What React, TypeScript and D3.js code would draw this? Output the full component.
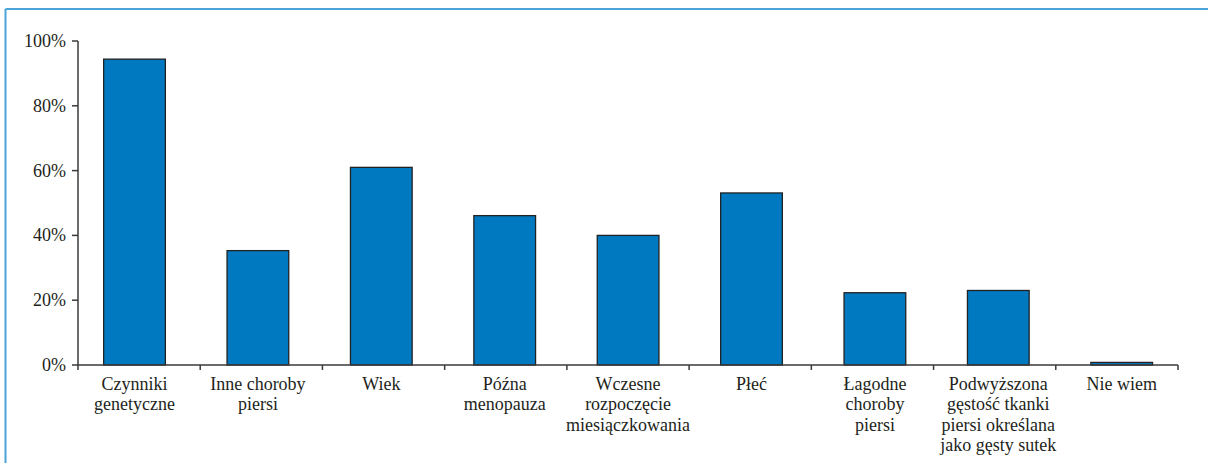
import React from "react";
import * as d3 from "d3";

// Risk factors named by respondents (label lines split with \n)
const categories: string[] = [
  "Czynniki\ngenetyczne",
  "Inne choroby\npiersi",
  "Wiek",
  "Późna\nmenopauza",
  "Wczesne\nrozpoczęcie\nmiesiączkowania",
  "Płeć",
  "Łagodne\nchoroby\npiersi",
  "Podwyższona\ngęstość tkanki\npiersi określana\njako gęsty sutek",
  "Nie wiem",
];

// Share of answers, in percent
const values: number[] = [94.4, 35.3, 61.0, 46.1, 40.0, 53.1, 22.3, 23.0, 0.8];

const yTicks: number[] = [0, 20, 40, 60, 80, 100];

const W = 1208;
const H = 463;
const AXIS_LEFT = 78;
const AXIS_RIGHT = 1178;
const Y_TOP = 41;
const Y_BOTTOM = 365;

const TEXT = "#231f20";
const AXIS = "#3a3a3a";
const BAR = "#0079c1";
const FRAME = "#4ba3d7";
const FONT =
  "'Liberation Serif', 'DejaVu Serif', 'Noto Serif', Tinos, 'Times New Roman', Times, 'Nimbus Roman', FreeSerif, serif";

export default function App() {
  const y = d3.scaleLinear().domain([0, 100]).range([Y_BOTTOM, Y_TOP]);

  // Axis scale: category boundaries for the tick marks
  const xAxis = d3
    .scaleBand<string>()
    .domain(categories)
    .range([AXIS_LEFT, AXIS_RIGHT])
    .padding(0);

  // Bar placement scale
  const xBar = d3
    .scaleBand<string>()
    .domain(categories)
    .range([72.8, 1183.4])
    .paddingInner(0.5)
    .paddingOuter(0.25);

  const tickXs = categories.map((c) => (xAxis(c) ?? 0) + xAxis.bandwidth());
  const textStyle = { fontFamily: FONT, fontSize: "18px" };

  return (
    <svg
      width={W}
      height={H}
      style={{ position: "absolute", left: 0, top: 0, background: "#fff" }}
    >
      {/* frame */}
      <line x1={5.5} y1={9} x2={W} y2={9} stroke={FRAME} strokeWidth={2} />
      <line x1={5.5} y1={9} x2={5.5} y2={H} stroke={FRAME} strokeWidth={2} />

      {/* bars */}
      {categories.map((c, i) => (
        <rect
          key={c}
          x={xBar(c)}
          y={y(values[i])}
          width={xBar.bandwidth()}
          height={Y_BOTTOM - y(values[i])}
          fill={BAR}
          stroke="#222"
          strokeWidth={1.3}
        />
      ))}

      {/* y axis */}
      <line x1={AXIS_LEFT} y1={Y_TOP} x2={AXIS_LEFT} y2={Y_BOTTOM} stroke={AXIS} strokeWidth={1.5} />
      {yTicks.map((t) => (
        <g key={t}>
          <line x1={AXIS_LEFT - 6} y1={y(t)} x2={AXIS_LEFT} y2={y(t)} stroke={AXIS} strokeWidth={1.5} />
          <text
            x={AXIS_LEFT - 12}
            y={y(t) + 6}
            textAnchor="end"
            style={textStyle}
            fill={TEXT}
          >
            {t}%
          </text>
        </g>
      ))}

      {/* x axis */}
      <line x1={AXIS_LEFT} y1={Y_BOTTOM} x2={AXIS_RIGHT} y2={Y_BOTTOM} stroke={AXIS} strokeWidth={1.5} />
      <line x1={AXIS_LEFT} y1={Y_BOTTOM} x2={AXIS_LEFT} y2={Y_BOTTOM + 5} stroke={AXIS} strokeWidth={1.5} />
      {tickXs.map((tx, i) => (
        <line key={i} x1={tx} y1={Y_BOTTOM} x2={tx} y2={Y_BOTTOM + 5} stroke={AXIS} strokeWidth={1.5} />
      ))}

      {/* category labels */}
      {categories.map((c) => {
        const cx = (xBar(c) ?? 0) + xBar.bandwidth() / 2;
        return (
          <text key={c} x={cx} y={390} textAnchor="middle" style={textStyle} fill={TEXT}>
            {c.split("\n").map((line, j) => (
              <tspan key={j} x={cx} dy={j === 0 ? 0 : 20.3}>
                {line}
              </tspan>
            ))}
          </text>
        );
      })}
    </svg>
  );
}
